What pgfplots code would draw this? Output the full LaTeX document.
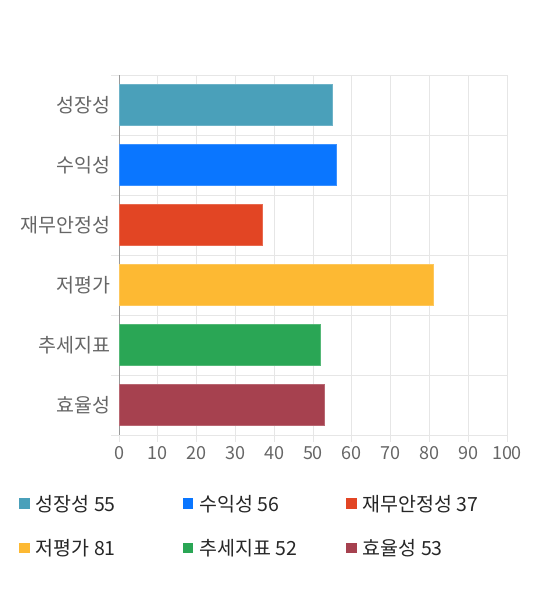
\documentclass[border=0pt]{standalone}
\usepackage{pgfplots}
\pgfplotsset{compat=1.18}
\usepackage{fontspec}
\setmainfont{Noto Sans CJK KR}
\definecolor{c1}{HTML}{4AA0BA}
\definecolor{c2}{HTML}{0A76FF}
\definecolor{c3}{HTML}{E24524}
\definecolor{c4}{HTML}{FDB933}
\definecolor{c5}{HTML}{2AA655}
\definecolor{c6}{HTML}{A6414F}
\definecolor{gridc}{HTML}{E6E6E6}
\definecolor{axc}{HTML}{999999}
\definecolor{labc}{HTML}{666666}
\begin{document}
\begin{tikzpicture}
\useasboundingbox (0,0) rectangle (540pt,590pt);
\begin{axis}[
  at={(119pt,155pt)}, anchor=south west,
  scale only axis, width=388pt, height=360pt,
  xmin=0, xmax=100, ymin=-0.5, ymax=5.5, y dir=reverse,
  xtick={0,10,...,100},
  ytick={0,1,2,3,4,5},
  yticklabels={성장성,수익성,재무안정성,저평가,추세지표,효율성},
  minor ytick={-0.5,0.5,1.5,2.5,3.5,4.5,5.5},
  xmajorgrids, yminorgrids,
  grid style={draw=gridc, line width=0.8pt},
  minor grid style={draw=gridc, line width=0.8pt},
  axis x line*=bottom, axis y line*=left,
  x axis line style={draw=none, -},
  y axis line style={draw=axc, line width=0.8pt, -, shorten >=-7pt},
  major tick length=0pt, minor tick length=8pt,
  tick align=outside,
  every tick/.style={draw=gridc, line width=0.8pt},
  every minor tick/.style={draw=gridc, line width=0.8pt},
  extra x ticks={0,10,...,100}, extra x tick labels={},
  extra x tick style={major tick length=7pt, grid=none, every tick/.style={draw=gridc, line width=0.8pt}},
  /pgf/number format/assume math mode=true,
  xticklabel style={font=\fontsize{18}{21}\selectfont, text=labc, yshift=-8pt},
  yticklabel style={font=\fontsize{19.5}{22}\selectfont, text=labc, xshift=-5pt},
  xbar, bar width=0.68,
  every axis plot/.append style={bar shift=0pt, line width=0.6pt},
  legend columns=3,
  legend style={at={(-0.265,-0.155)}, anchor=north west, draw=none,
    font=\fontsize{19.5}{22}\selectfont, text=black!85,
    row sep=23pt, /tikz/every odd column/.append style={column sep=4pt}},
  legend image code/.code={\fill[#1, draw=none] (0pt,-5pt) rectangle (10.5pt,5.5pt);},
  legend cell align=left,
]
\addplot[fill=c1, draw=c1!80!white] coordinates {(55,0)};
\addlegendentry{\makebox[145pt][l]{성장성 55}}
\addplot[fill=c2, draw=c2!80!white] coordinates {(56,1)};
\addlegendentry{\makebox[145pt][l]{수익성 56}}
\addplot[fill=c3, draw=c3!80!white] coordinates {(37,2)};
\addlegendentry{재무안정성 37}
\addplot[fill=c4, draw=c4!80!white] coordinates {(81,3)};
\addlegendentry{\makebox[145pt][l]{저평가 81}}
\addplot[fill=c5, draw=c5!80!white] coordinates {(52,4)};
\addlegendentry{\makebox[145pt][l]{추세지표 52}}
\addplot[fill=c6, draw=c6!80!white] coordinates {(53,5)};
\addlegendentry{효율성 53}
\end{axis}
\end{tikzpicture}
\end{document}
